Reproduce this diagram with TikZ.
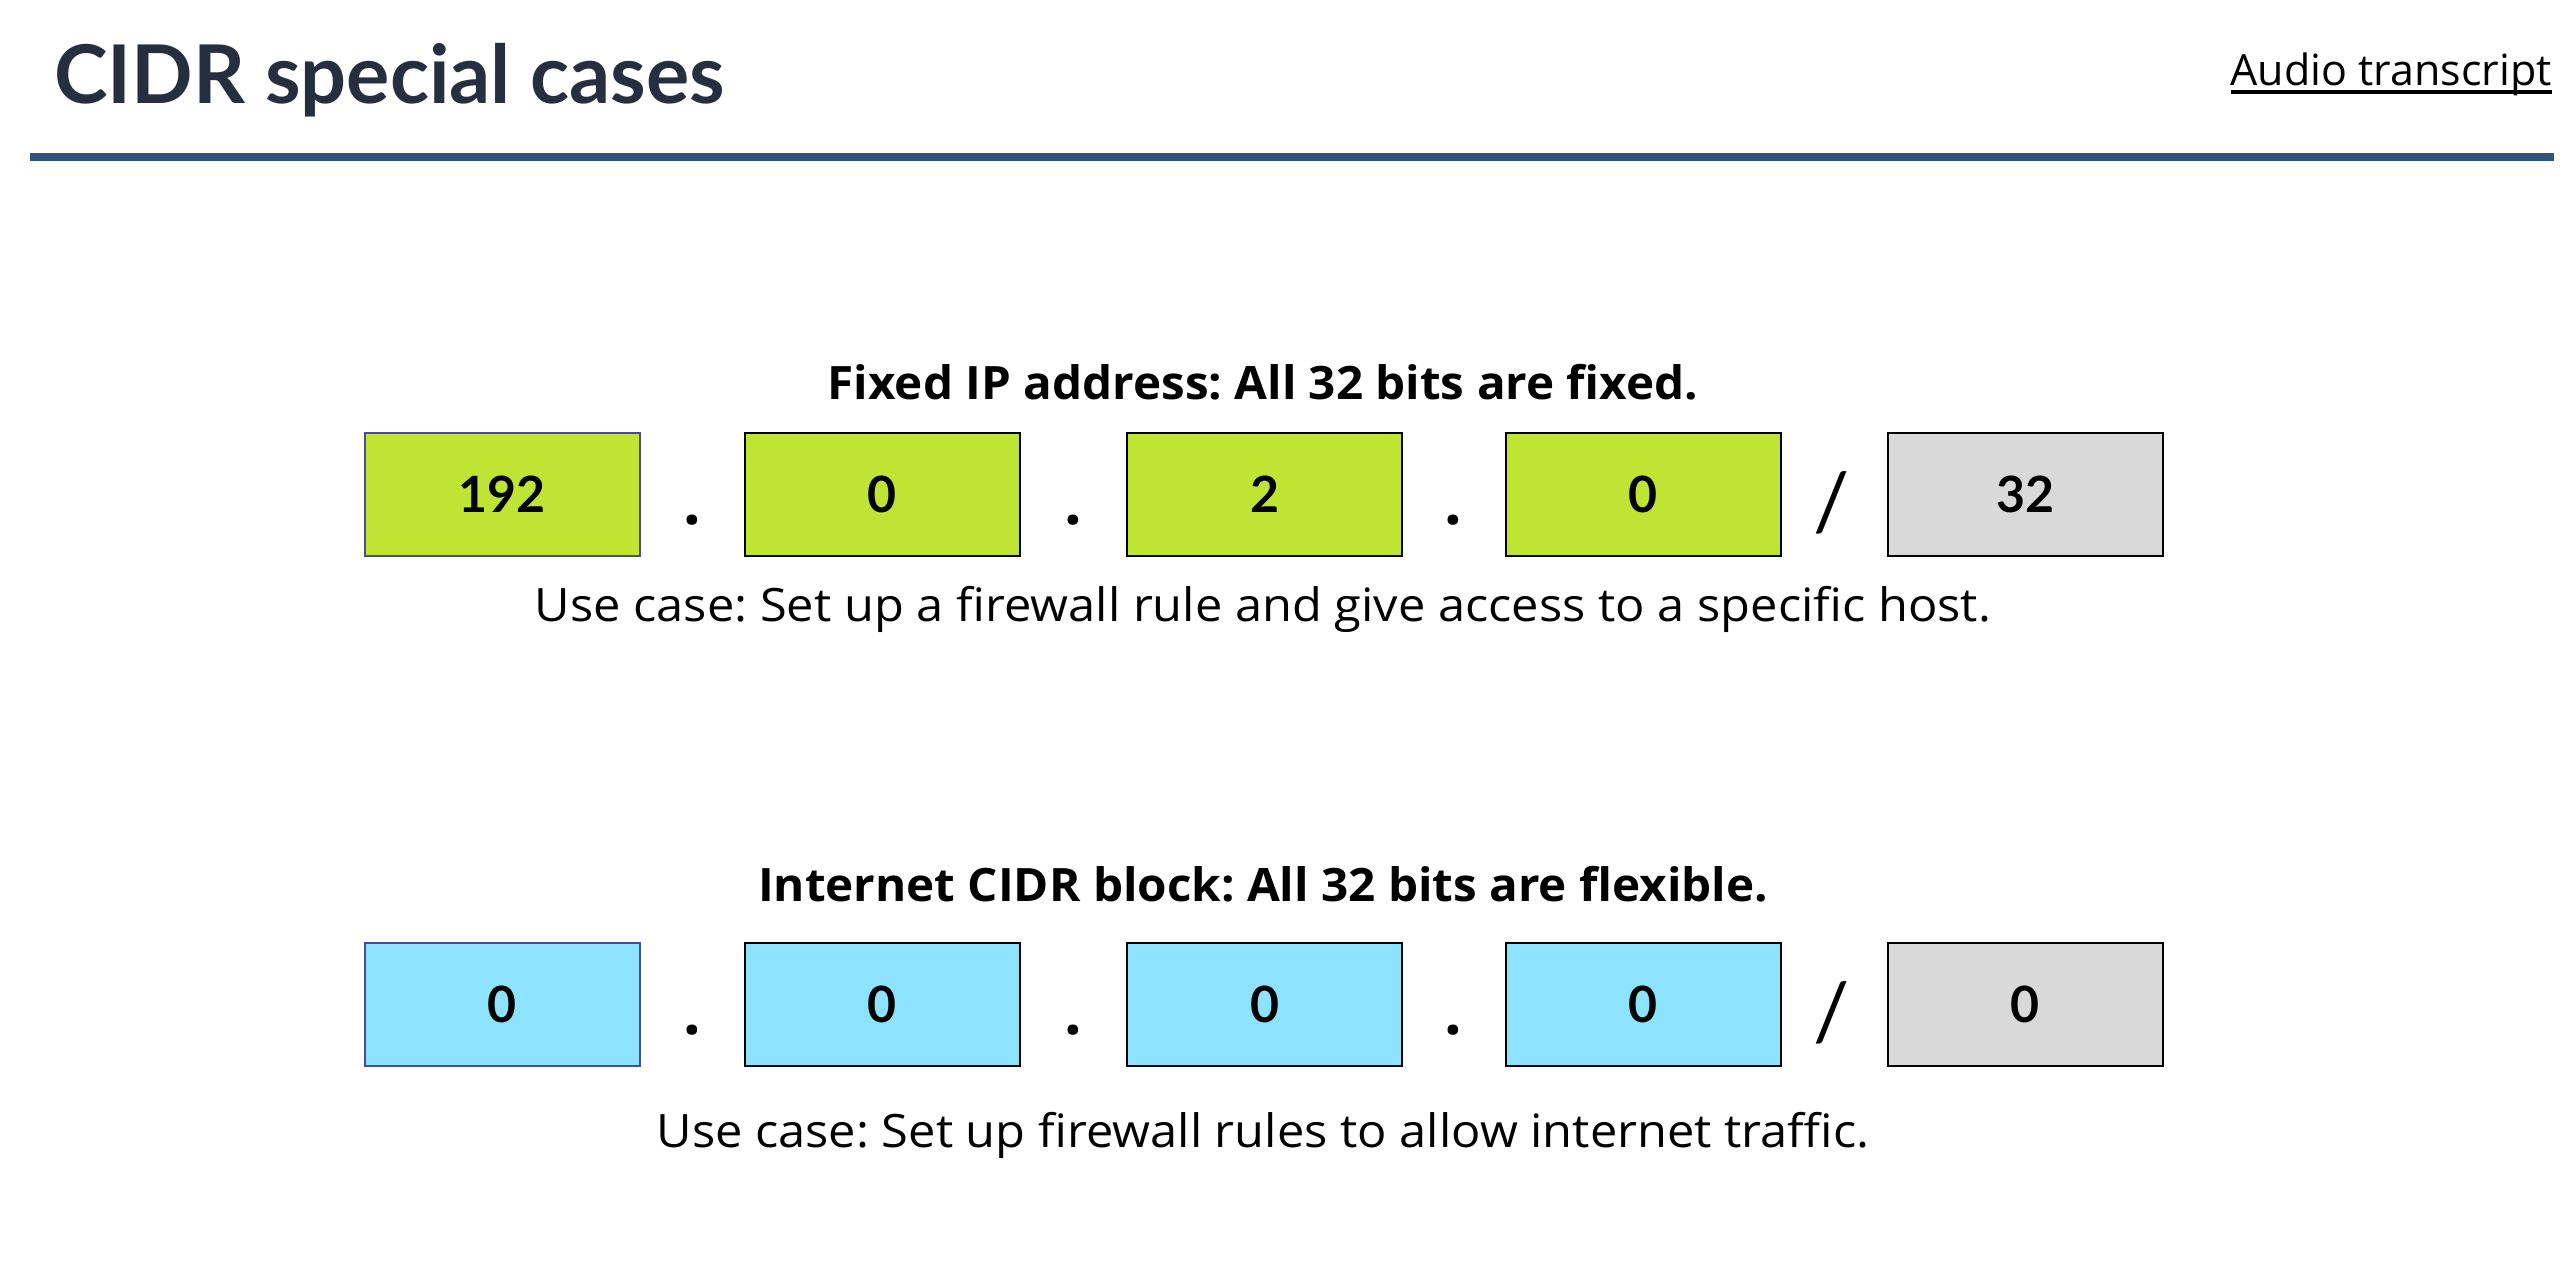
\documentclass[tikz,border=0pt]{standalone}
\usepackage{fontspec}
\setmainfont{Open Sans}
\newfontfamily\titlefont{Lato}
\newfontfamily\widefont[FakeStretch=1.06]{Open Sans}
\newfontfamily\headfont[FakeStretch=1.035]{Open Sans}
\definecolor{titlecol}{HTML}{262F3F}
\definecolor{rulecol}{HTML}{2F557A}
\definecolor{greenfill}{HTML}{C0E434}
\definecolor{bluefill}{HTML}{8DE3FD}
\definecolor{grayfill}{HTML}{D9D9D9}
\definecolor{firstborder}{HTML}{4A4A9A}
\begin{document}
\frenchspacing
\begin{tikzpicture}[x=1pt,y=-1pt,
  octet/.style={draw=black, line width=2pt, minimum width=275pt, minimum height=123pt, inner sep=0pt, font=\titlefont\fontsize{50}{60}\selectfont\bfseries},
  greenbox/.style={octet, fill=greenfill},
  bluebox/.style={octet, fill=bluefill},
  graybox/.style={octet, fill=grayfill},
  sep/.style={font=\fontsize{62}{70}\selectfont\bfseries, inner sep=0pt, anchor=base},
  slashtxt/.style={font=\titlefont\fontsize{80}{90}\selectfont, inner sep=0pt},
  heading/.style={font=\headfont\fontsize{46}{54}\selectfont\bfseries, inner sep=0pt},
  usecase/.style={font=\widefont\fontsize{46}{54}\selectfont, inner sep=0pt}
]
\useasboundingbox[fill=white] (0,0) rectangle (2572,1266);

\node[anchor=base west, text=titlecol, inner sep=0pt, font=\titlefont\fontsize{81}{90}\selectfont\bfseries] (title) at (54,103) {CIDR special cases};
\node[anchor=base east, inner sep=0pt, font=\fontsize{43}{50}\selectfont] (audio) at (2552,85) {Audio transcript};
\draw[line width=4pt] ([yshift=-7pt]audio.base west) -- ([yshift=-7pt]audio.base east);
\coordinate (ruleL) at (30,157);
\coordinate (ruleR) at (2554,157);
\draw[rulecol, line width=8pt] (ruleL) -- (ruleR);

% Row 1
\node[heading] (h1) at (1263,382) {Fixed IP address: All 32 bits are fixed.};
\node[greenbox, draw=firstborder] (a1) at (502,494.5) {192};
\node[greenbox] (a2) at (882,494.5) {0};
\node[greenbox] (a3) at (1264.5,494.5) {2};
\node[greenbox] (a4) at (1643,494.5) {0};
\node[graybox] (a5) at (2025,494.5) {32};
\node[sep] (d1) at (692,524) {.};
\node[sep] (d2) at (1073,524) {.};
\node[sep] (d3) at (1453,524) {.};
\node[slashtxt] (s1) at (1832,503) {/};
\node[usecase] (u1) at (1263,609) {Use case: Set up a firewall rule and give access to a specific host.};

% Row 2
\node[heading] (h2) at (1263,884) {Internet CIDR block: All 32 bits are flexible.};
\node[bluebox, draw=firstborder] (b1) at (502,1004.5) {0};
\node[bluebox] (b2) at (882,1004.5) {0};
\node[bluebox] (b3) at (1264.5,1004.5) {0};
\node[bluebox] (b4) at (1643,1004.5) {0};
\node[graybox] (b5) at (2025,1004.5) {0};
\node[sep] (e1) at (692,1034) {.};
\node[sep] (e2) at (1073,1034) {.};
\node[sep] (e3) at (1453,1034) {.};
\node[slashtxt] (s2) at (1832,1013) {/};
\node[usecase] (u2) at (1263,1135) {Use case: Set up firewall rules to allow internet traffic.};
\end{tikzpicture}
\end{document}
